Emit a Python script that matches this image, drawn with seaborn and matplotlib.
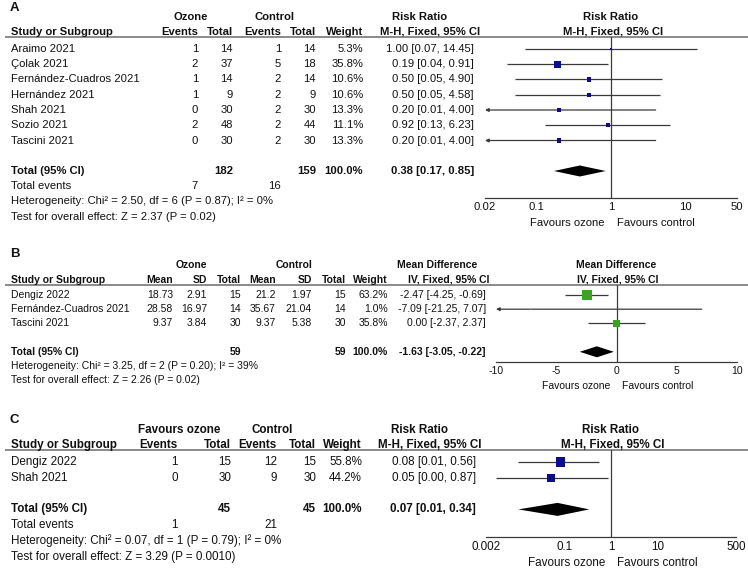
import numpy as np
import matplotlib.pyplot as plt
import seaborn as sns
from matplotlib.ticker import NullLocator

sns.set_theme(style="white")
plt.rcParams['font.family'] = ['Liberation Sans', 'DejaVu Sans']

W, H = 748, 568
TXT = '#111111'
LINE = '#3a3a3a'
RULE = '#777777'
BLUE = '#0c0c8f'
GREEN = '#3aa51c'

# ---- panel A: risk ratio (events) ----
studies_a = ["Araimo 2021", "Çolak 2021", "Fernández-Cuadros 2021", "Hernández 2021",
             "Shah 2021", "Sozio 2021", "Tascini 2021"]
oz_events_a = [1, 2, 1, 1, 0, 2, 0]
oz_total_a = [14, 37, 14, 9, 30, 48, 30]
ct_events_a = [1, 5, 2, 2, 2, 2, 2]
ct_total_a = [14, 18, 14, 9, 30, 44, 30]
weight_a = [5.3, 35.8, 10.6, 10.6, 13.3, 11.1, 13.3]
rr_a = [1.00, 0.19, 0.50, 0.50, 0.20, 0.92, 0.20]
lo_a = [0.07, 0.04, 0.05, 0.05, 0.01, 0.13, 0.01]
hi_a = [14.45, 0.91, 4.90, 4.58, 4.00, 6.23, 4.00]
pooled_a = (0.38, 0.17, 0.85)
het_a = "Heterogeneity: Chi² = 2.50, df = 6 (P = 0.87); I² = 0%"
test_a = "Test for overall effect: Z = 2.37 (P = 0.02)"
ticks_a = [0.02, 0.1, 1, 10, 50]
ticklabels_a = ["0.02", "0.1", "1", "10", "50"]

# ---- panel B: mean difference ----
studies_b = ["Dengiz 2022", "Fernández-Cuadros 2021", "Tascini 2021"]
oz_mean_b = [18.73, 28.58, 9.37]
oz_sd_b = [2.91, 16.97, 3.84]
oz_n_b = [15, 14, 30]
ct_mean_b = [21.2, 35.67, 9.37]
ct_sd_b = [1.97, 21.04, 5.38]
ct_n_b = [15, 14, 30]
weight_b = [63.2, 1.0, 35.8]
md_b = [-2.47, -7.09, 0.00]
lo_b = [-4.25, -21.25, -2.37]
hi_b = [-0.69, 7.07, 2.37]
pooled_b = (-1.63, -3.05, -0.22)
het_b = "Heterogeneity: Chi² = 3.25, df = 2 (P = 0.20); I² = 39%"
test_b = "Test for overall effect: Z = 2.26 (P = 0.02)"
ticks_b = [-10, -5, 0, 5, 10]
ticklabels_b = ["-10", "-5", "0", "5", "10"]

# ---- panel C: risk ratio (events) ----
studies_c = ["Dengiz 2022", "Shah 2021"]
oz_events_c = [1, 0]
oz_total_c = [15, 30]
ct_events_c = [12, 9]
ct_total_c = [15, 30]
weight_c = [55.8, 44.2]
rr_c = [0.08, 0.05]
lo_c = [0.01, 0.0033]
hi_c = [0.56, 0.87]
pooled_c = (0.07, 0.01, 0.34)
het_c = "Heterogeneity: Chi² = 0.07, df = 1 (P = 0.79); I² = 0%"
test_c = "Test for overall effect: Z = 3.29 (P = 0.0010)"
ticks_c = [0.002, 0.1, 1, 10, 500]
ticklabels_c = ["0.002", "0.1", "1", "10", "500"]

fig = plt.figure(figsize=(W / 100, H / 100), dpi=100)
bg = fig.add_axes([0, 0, 1, 1])
bg.set_xlim(0, W)
bg.set_ylim(H, 0)
bg.axis('off')


def txt(x, y, s, size, ha='left', bold=False):
    bg.text(x, y, s, ha=ha, va='center', fontsize=size, color=TXT,
            fontweight='bold' if bold else 'normal')


def ci_text(e, l, h):
    return f"{e:.2f} [{l:.2f}, {h:.2f}]"


def forest(x0, x1, ytop, ybot, xlim, log, ticks, labels, null, size):
    ax = fig.add_axes([x0 / W, 1 - ybot / H, (x1 - x0) / W, (ybot - ytop) / H])
    if log:
        ax.set_xscale('log')
    ax.set_xlim(*xlim)
    ax.set_ylim(ybot, ytop)
    ax.patch.set_alpha(0)
    for s in ['top', 'left', 'right']:
        ax.spines[s].set_visible(False)
    ax.spines['bottom'].set_color(LINE)
    ax.spines['bottom'].set_linewidth(0.9)
    ax.set_yticks([])
    ax.set_xticks(ticks)
    ax.set_xticklabels(labels)
    ax.xaxis.set_minor_locator(NullLocator())
    ax.tick_params(axis='x', direction='in', length=3.6, width=0.9, color=LINE,
                   pad=3, labelsize=size, labelcolor=TXT)
    ax.axvline(null, color=LINE, lw=0.9, zorder=1)
    return ax


def draw_studies(ax, ys, est, lo, hi, w, color, xmin):
    for y, l, h in zip(ys, lo, hi):
        if l < xmin:
            ax.annotate('', xy=(xmin, y), xytext=(h, y),
                        arrowprops=dict(arrowstyle='-|>', color=LINE, lw=0.9,
                                        mutation_scale=5, shrinkA=0, shrinkB=0))
        else:
            ax.hlines(y, l, h, color=LINE, lw=0.9)
    sizes = (1.25 * np.sqrt(np.array(w)) * 0.72) ** 2
    sns.scatterplot(x=est, y=ys, s=sizes, marker='s', color=color, linewidth=0,
                    ax=ax, legend=False, zorder=3)


def diamond(ax, y, pooled, half=5.5):
    e, l, h = pooled
    ax.fill([l, e, h, e], [y, y - half, y, y + half], color='black', lw=0, zorder=3)


def favours(xc, y, size):
    txt(xc - 6, y, "Favours ozone", size, ha='right')
    txt(xc + 6, y, "Favours control", size, ha='left')


# ================= Panel A =================
fa = 8.1
txt(10, 8, "A", 9.5, bold=True)
txt(191, 17, "Ozone", fa, ha='center', bold=True)
txt(275, 17, "Control", fa, ha='center', bold=True)
txt(420, 17, "Risk Ratio", fa, ha='center', bold=True)
txt(611, 17, "Risk Ratio", fa, ha='center', bold=True)
txt(11, 32, "Study or Subgroup", fa, bold=True)
for x, s in zip([198, 233, 281, 316, 363], ["Events", "Total", "Events", "Total", "Weight"]):
    txt(x, 32, s, fa, ha='right', bold=True)
txt(430, 32, "M-H, Fixed, 95% CI", fa, ha='center', bold=True)
txt(613, 32, "M-H, Fixed, 95% CI", fa, ha='center', bold=True)
bg.hlines(36.5, 5, W, color=RULE, lw=1.2)

step_a = 15.25
ys_a = [49 + step_a * i for i in range(len(studies_a))]
for i, y in enumerate(ys_a):
    txt(11, y, studies_a[i], fa)
    txt(198, y, str(oz_events_a[i]), fa, ha='right')
    txt(233, y, str(oz_total_a[i]), fa, ha='right')
    txt(281, y, str(ct_events_a[i]), fa, ha='right')
    txt(316, y, str(ct_total_a[i]), fa, ha='right')
    txt(363, y, f"{weight_a[i]:.1f}%", fa, ha='right')
    txt(474, y, ci_text(rr_a[i], lo_a[i], hi_a[i]), fa, ha='right')
yt_a = 49 + step_a * (len(studies_a) + 1)
txt(11, yt_a, "Total (95% CI)", fa, bold=True)
txt(233, yt_a, str(sum(oz_total_a)), fa, ha='right', bold=True)
txt(316, yt_a, str(sum(ct_total_a)), fa, ha='right', bold=True)
txt(363, yt_a, f"{sum(weight_a):.1f}%", fa, ha='right', bold=True)
txt(474, yt_a, ci_text(*pooled_a), fa, ha='right', bold=True)
txt(11, yt_a + step_a, "Total events", fa)
txt(198, yt_a + step_a, str(sum(oz_events_a)), fa, ha='right')
txt(281, yt_a + step_a, str(sum(ct_events_a)), fa, ha='right')
txt(11, yt_a + 2 * step_a, het_a, fa)
txt(11, yt_a + 3 * step_a, test_a, fa)

ax_a = forest(485, 737, 36.5, 197.5, (0.02, 50), True, ticks_a, ticklabels_a, 1, fa)
draw_studies(ax_a, ys_a, rr_a, lo_a, hi_a, weight_a, BLUE, 0.02)
diamond(ax_a, yt_a, pooled_a)
favours(611, 223, fa)

# ================= Panel B =================
fb = 7.45
txt(10, 254, "B", 9.5, bold=True)
txt(191, 265, "Ozone", fb, ha='center', bold=True)
txt(294, 265, "Control", fb, ha='center', bold=True)
txt(437, 265, "Mean Difference", fb, ha='center', bold=True)
txt(616, 265, "Mean Difference", fb, ha='center', bold=True)
txt(11, 280, "Study or Subgroup", fb, bold=True)
for x, s in zip([173, 207, 241, 276, 312, 346, 388],
                ["Mean", "SD", "Total", "Mean", "SD", "Total", "Weight"]):
    txt(x, 280, s, fb, ha='right', bold=True)
txt(449, 280, "IV, Fixed, 95% CI", fb, ha='center', bold=True)
txt(618, 280, "IV, Fixed, 95% CI", fb, ha='center', bold=True)
bg.hlines(285, 5, W, color=RULE, lw=1.2)

step_b = 14.2
ys_b = [295 + step_b * i for i in range(len(studies_b))]
for i, y in enumerate(ys_b):
    txt(11, y, studies_b[i], fb)
    txt(173, y, f"{oz_mean_b[i]:g}", fb, ha='right')
    txt(207, y, f"{oz_sd_b[i]:g}", fb, ha='right')
    txt(241, y, str(oz_n_b[i]), fb, ha='right')
    txt(276, y, f"{ct_mean_b[i]:g}", fb, ha='right')
    txt(312, y, f"{ct_sd_b[i]:g}", fb, ha='right')
    txt(346, y, str(ct_n_b[i]), fb, ha='right')
    txt(388, y, f"{weight_b[i]:.1f}%", fb, ha='right')
    txt(486, y, ci_text(md_b[i], lo_b[i], hi_b[i]), fb, ha='right')
yt_b = 295 + step_b * (len(studies_b) + 1)
txt(11, yt_b, "Total (95% CI)", fb, bold=True)
txt(241, yt_b, str(sum(oz_n_b)), fb, ha='right', bold=True)
txt(346, yt_b, str(sum(ct_n_b)), fb, ha='right', bold=True)
txt(388, yt_b, f"{sum(weight_b):.1f}%", fb, ha='right', bold=True)
txt(486, yt_b, ci_text(*pooled_b), fb, ha='right', bold=True)
txt(11, yt_b + step_b, het_b, fb)
txt(11, yt_b + 2 * step_b, test_b, fb)

ax_b = forest(496, 737, 285, 362, (-10, 10), False, ticks_b, ticklabels_b, 0, fb)
draw_studies(ax_b, ys_b, md_b, lo_b, hi_b, weight_b, GREEN, -10)
diamond(ax_b, yt_b, pooled_b)
favours(616, 386, fb)

# ================= Panel C =================
fc = 8.4
txt(10, 420, "C", 9.5, bold=True)
txt(179, 430, "Favours ozone", fc, ha='center', bold=True)
txt(272, 430, "Control", fc, ha='center', bold=True)
txt(420, 430, "Risk Ratio", fc, ha='center', bold=True)
txt(611, 430, "Risk Ratio", fc, ha='center', bold=True)
txt(11, 445, "Study or Subgroup", fc, bold=True)
for x, s in zip([178, 231, 277, 316, 362], ["Events", "Total", "Events", "Total", "Weight"]):
    txt(x, 445, s, fc, ha='right', bold=True)
txt(430, 445, "M-H, Fixed, 95% CI", fc, ha='center', bold=True)
txt(613, 445, "M-H, Fixed, 95% CI", fc, ha='center', bold=True)
bg.hlines(450, 5, W, color=RULE, lw=1.2)

step_c = 15.8
ys_c = [462 + step_c * i for i in range(len(studies_c))]
for i, y in enumerate(ys_c):
    txt(11, y, studies_c[i], fc)
    txt(178, y, str(oz_events_c[i]), fc, ha='right')
    txt(231, y, str(oz_total_c[i]), fc, ha='right')
    txt(277, y, str(ct_events_c[i]), fc, ha='right')
    txt(316, y, str(ct_total_c[i]), fc, ha='right')
    txt(362, y, f"{weight_c[i]:.1f}%", fc, ha='right')
    txt(476, y, ci_text(rr_c[i], lo_c[i], hi_c[i]), fc, ha='right')
yt_c = 462 + step_c * (len(studies_c) + 1)
txt(11, yt_c, "Total (95% CI)", fc, bold=True)
txt(231, yt_c, str(sum(oz_total_c)), fc, ha='right', bold=True)
txt(316, yt_c, str(sum(ct_total_c)), fc, ha='right', bold=True)
txt(362, yt_c, f"{sum(weight_c):.1f}%", fc, ha='right', bold=True)
txt(476, yt_c, ci_text(*pooled_c), fc, ha='right', bold=True)
txt(11, yt_c + step_c, "Total events", fc)
txt(178, yt_c + step_c, str(sum(oz_events_c)), fc, ha='right')
txt(277, yt_c + step_c, str(sum(ct_events_c)), fc, ha='right')
txt(11, yt_c + 2 * step_c, het_c, fc)
txt(11, yt_c + 3 * step_c, test_c, fc)

ax_c = forest(486, 736, 450, 536.5, (0.002, 500), True, ticks_c, ticklabels_c, 1, fc)
draw_studies(ax_c, ys_c, rr_c, lo_c, hi_c, weight_c, BLUE, 0.002)
diamond(ax_c, yt_c, pooled_c, half=6.5)
favours(611, 563, fc)

fig.savefig("out.png", dpi=100, facecolor='white')
